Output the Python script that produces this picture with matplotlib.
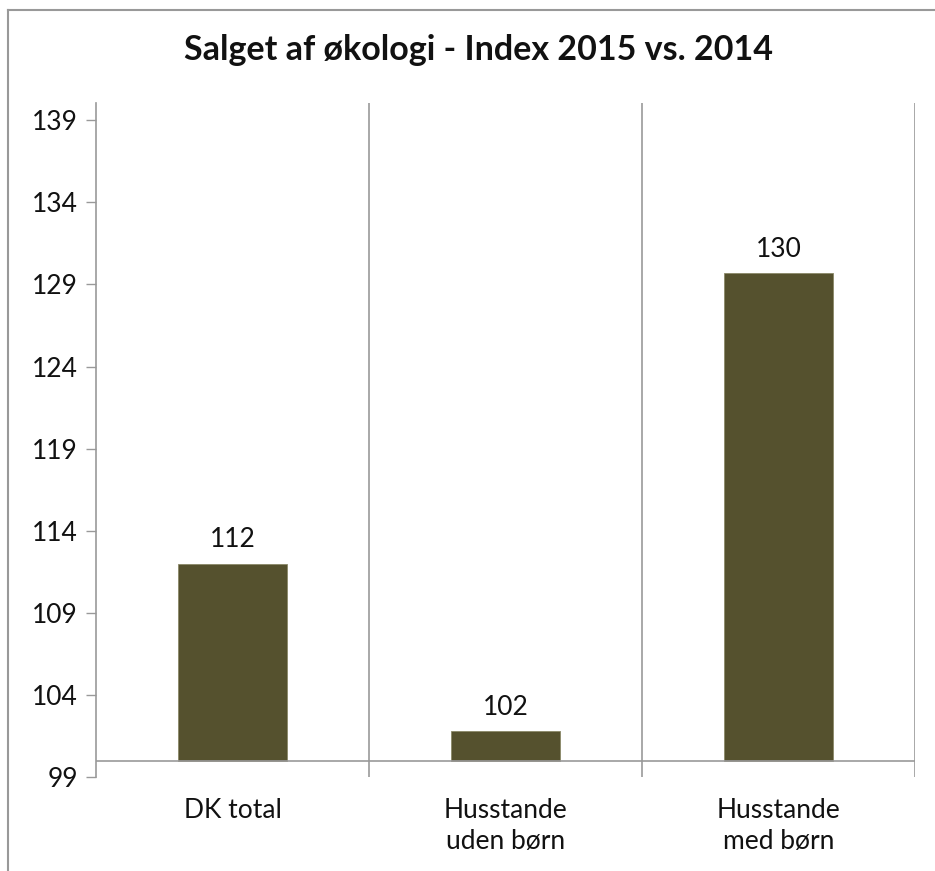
import matplotlib
matplotlib.use("Agg")
import matplotlib.pyplot as plt
from matplotlib.lines import Line2D

categories = ["DK total", "Husstande\nuden børn", "Husstande\nmed børn"]
values = [112.0, 101.8, 129.7]
yticks = [99, 104, 109, 114, 119, 124, 129, 134, 139]
title = "Salget af økologi - Index 2015 vs. 2014"

plt.rcParams['font.family'] = ['Lato', 'DejaVu Sans']

fig = plt.figure(figsize=(9.35, 8.71), dpi=100)
ax = fig.add_axes([96/935, 1-777/871, (915-96)/935, (777-103)/871])

base = 100
x = list(range(len(categories)))
bars = ax.bar(x, [v - base for v in values], bottom=base, width=0.4,
              color="#55512E", edgecolor="#8a8868", linewidth=0.6, zorder=3)
for xi, v in zip(x, values):
    ax.annotate(f"{v:.0f}", (xi, v), xytext=(0, 8), textcoords="offset points",
                ha="center", va="bottom", fontsize=19, color="#111111")

ax.set_ylim(99, 140.05)
ax.set_xlim(-0.5, len(categories) - 0.5)
ax.set_yticks(yticks)
ax.set_yticklabels([str(t) for t in yticks], fontsize=19, color="#111111")
ax.set_xticks(x)
ax.set_xticklabels(categories, fontsize=19, color="#111111", linespacing=1.3)
ax.tick_params(axis="x", length=0, pad=15)
ax.tick_params(axis="y", length=7, width=1, color="#999999", pad=6)

for s in ["top", "right", "bottom"]:
    ax.spines[s].set_visible(False)
ax.spines["left"].set_color("#999999")
ax.spines["left"].set_linewidth(1.2)

# category boundary lines
for b in [0.5, 1.5, 2.5]:
    ax.axvline(b, color="#999999", linewidth=1.2, zorder=1)
ax.axhline(base, color="#999999", linewidth=1.2, zorder=4)

fig.text(478/935, 1-50/871, title, ha="center", va="center",
         fontsize=24.5, fontweight="bold", color="#111111")

# chart frame (left and top edges)
fig.add_artist(Line2D([8/935, 8/935], [0, 1-10/871], transform=fig.transFigure,
                      color="#999999", linewidth=1.5))
fig.add_artist(Line2D([8/935, 1], [1-10/871, 1-10/871], transform=fig.transFigure,
                      color="#999999", linewidth=1.5))

fig.savefig("out.png", dpi=100, facecolor="white")
